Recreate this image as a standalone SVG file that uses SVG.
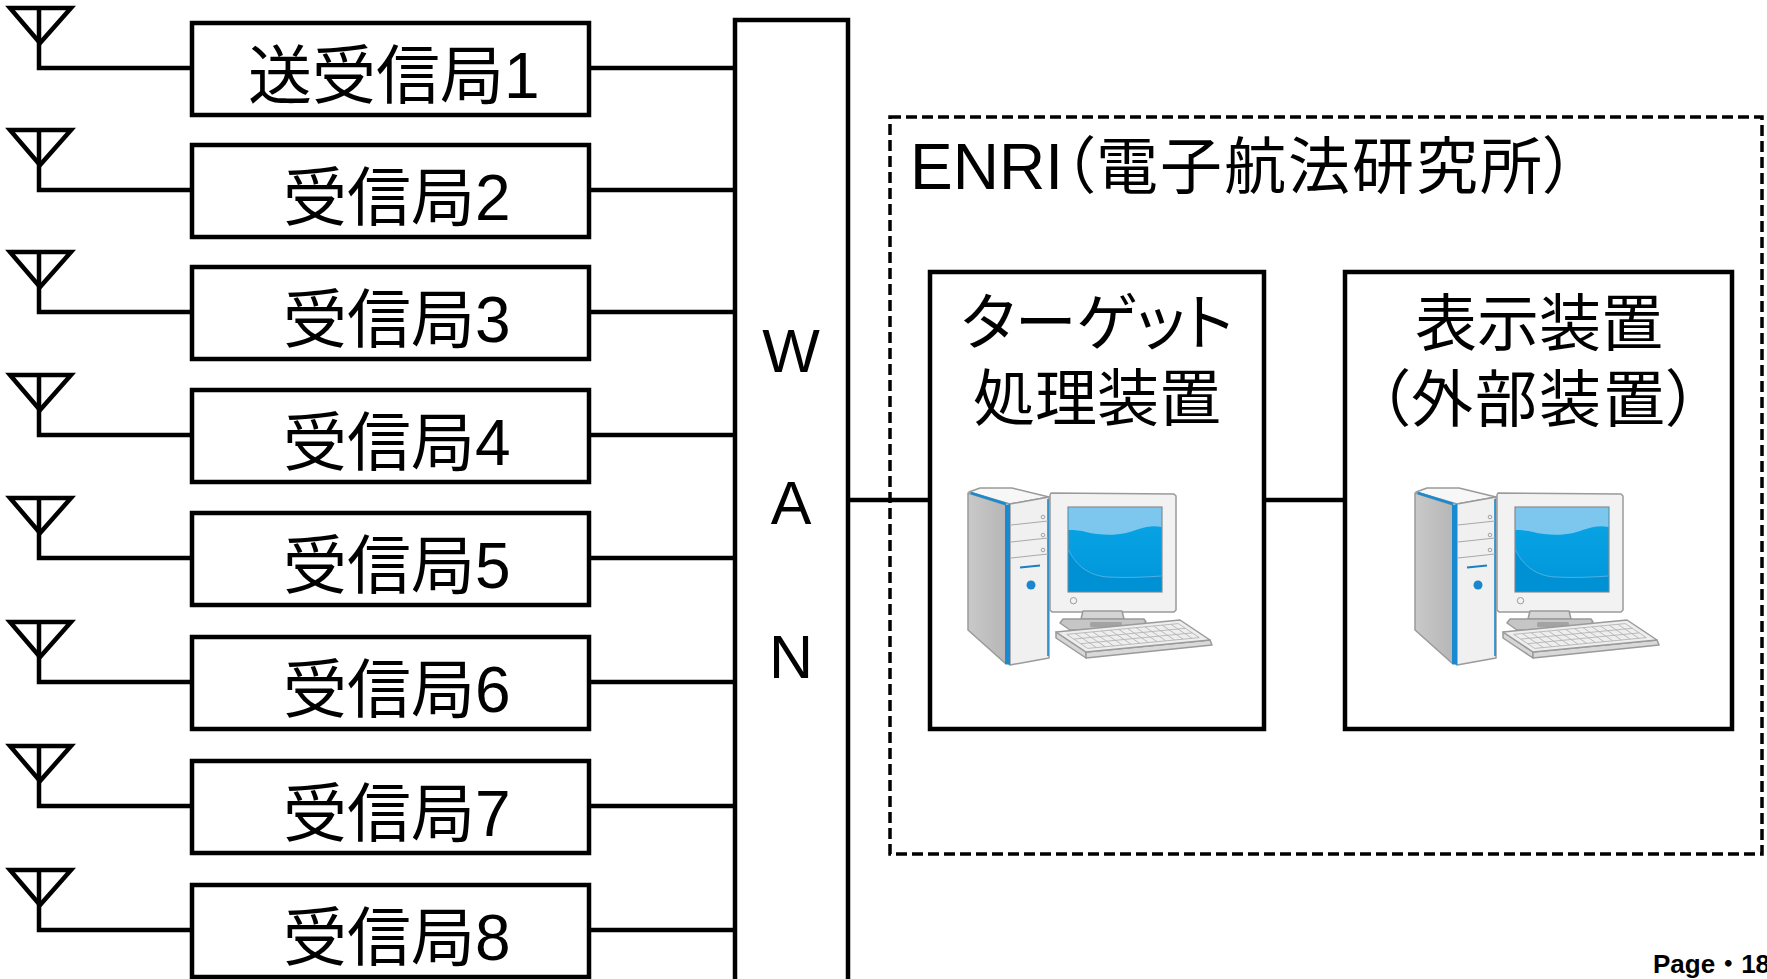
<svg xmlns="http://www.w3.org/2000/svg" width="1767" height="979" viewBox="0 0 1767 979">
  <style>
    .box { fill: #ffffff; stroke: #000000; stroke-width: 4.5; }
    .wire { fill: none; stroke: #000000; stroke-width: 4.5; }
    .ant { fill: none; stroke: #000000; stroke-width: 4.5; stroke-linejoin: miter; }
    .zone { fill: none; stroke: #000000; stroke-width: 3.5; stroke-dasharray: 11 5; }
    .jp { font-family: "Liberation Sans", "Noto Sans CJK JP", sans-serif; fill: #000000; }
    .st { font-size: 64px; }
    .big { font-size: 62px; font-feature-settings: "palt" 1; }
    .wan { font-family: "Liberation Sans", sans-serif; font-size: 61px; text-anchor: middle; fill: #000000; }
    .page { font-family: "Liberation Sans", "Noto Sans CJK JP", sans-serif; font-size: 26px; font-weight: bold; fill: #000000; }
    .pcl { stroke: #9a9a9a; stroke-width: 1.5; stroke-linejoin: round; }
    .keys { fill: none; stroke: #b4b4b4; stroke-width: 0.9; }
  </style>
  <defs>
    <linearGradient id="screenGrad" x1="0" y1="0" x2="0" y2="1">
      <stop offset="0" stop-color="#0aa6e6"/>
      <stop offset="1" stop-color="#0096da"/>
    </linearGradient>
    <linearGradient id="sideGrad" x1="0" y1="0" x2="1" y2="0">
      <stop offset="0" stop-color="#c9c9c9"/>
      <stop offset="1" stop-color="#b6b6b6"/>
    </linearGradient>
    <!-- desktop computer: tower, monitor and keyboard -->
    <g id="pc">
      <!-- tower -->
      <polygon class="pcl" points="0,5 38,17 38,176 0,142" fill="url(#sideGrad)"/>
      <polygon class="pcl" points="1,4 12,0 44,0 81,9 42,16" fill="#f7f7f7"/>
      <polygon class="pcl" points="42,16 81,9 81,170 42,177" fill="#f0f0f0"/>
      <polygon points="37,17 42,16 42,177 37,176" fill="#1a8ad0"/>
      <line x1="3" y1="5" x2="38" y2="16" stroke="#1a8ad0" stroke-width="2.5"/>
      <line x1="80" y1="11" x2="80" y2="168" stroke="#1a8ad0" stroke-width="1.6"/>
      <path d="M43,37 L80,33 M43,54 L80,50 M43,70 L80,66" stroke="#a8a8a8" stroke-width="1" fill="none"/>
      <circle cx="75" cy="29" r="1.8" fill="none" stroke="#9a9a9a" stroke-width="0.9"/>
      <circle cx="75" cy="47" r="1.8" fill="none" stroke="#9a9a9a" stroke-width="0.9"/>
      <circle cx="75" cy="62" r="1.8" fill="none" stroke="#9a9a9a" stroke-width="0.9"/>
      <line x1="52" y1="79.5" x2="72" y2="77.5" stroke="#1a7fc4" stroke-width="2"/>
      <circle cx="63" cy="97" r="4.5" fill="#1a86cc"/>
      <!-- monitor -->
      <polygon class="pcl" points="83,5 206,6 208,8 208,122 206,124 84,124 82,122 82,7" fill="#f2f2f2"/>
      <rect x="100" y="19" width="94" height="85" fill="url(#screenGrad)" stroke="#8c8c8c" stroke-width="1.2"/>
      <path d="M100.6,19.6 H193.4 V39 C180,36 170,42 158,45 C145,48 130,47 118,44 C110,42 104,42 100.6,42 Z" fill="#7dc7ef"/>
      <path d="M100.6,62 C108,78 122,88 140,89 C160,90 180,89 193.4,88 V103.4 H100.6 Z" fill="#0090d4"/>
      <path d="M100.6,62 C108,78 122,88 140,89 C160,90 180,89 193.4,88" fill="none" stroke="#5fb8e8" stroke-width="0.8"/>
      <circle cx="105.5" cy="112.7" r="3.2" fill="none" stroke="#9a9a9a" stroke-width="1"/>
      <polygon class="pcl" points="115,123 154,123 156,131 113,131" fill="#d4d4d4"/>
      <polygon class="pcl" points="95,131 176,131 178,134 166,142 102,142 92,135" fill="#c6c6c6"/>
      <rect x="122" y="134" width="32" height="5" rx="1.5" fill="#a3a3a3"/>
      <!-- keyboard -->
      <polygon class="pcl" points="88,144 118,164 118,170 88,150" fill="#d6d6d6"/>
      <polygon class="pcl" points="118,164 242,152 244,157 118,170" fill="#d9d9d9"/>
      <polygon class="pcl" points="88,144 212,132 242,152 118,164" fill="#eeeeee"/>
      <path class="keys" d="M98.7,146.4 L210.3,135.6 M105.7,151.1 L217.3,140.3 M112.7,155.7 L224.3,144.9 M119.7,160.4 L231.3,149.6
        M98.7,146.4 L119.7,160.4 M107.4,145.6 L128.4,159.6 M116.1,144.7 L137.1,158.7 M124.7,143.9 L145.7,157.9
        M133.4,143 L154.4,157 M142.1,142.2 L163.1,156.2 M150.8,141.4 L171.8,155.4 M159.5,140.5 L180.5,154.5
        M168.1,139.7 L189.1,153.7 M176.8,138.8 L197.8,152.8 M185.5,138 L206.5,152 M194.2,137.2 L215.2,151.2
        M202.9,136.3 L223.9,150.3 M210.3,135.6 L231.3,149.6"/>
    </g>
  </defs>

  <rect width="1767" height="979" fill="#ffffff"/>

  <!-- connectors -->
  <g id="connectors">
    <path class="wire" d="M39,8 V68 H192 M589,68 H735"/>
    <path class="wire" d="M39,130 V190 H192 M589,190 H735"/>
    <path class="wire" d="M39,252 V312 H192 M589,312 H735"/>
    <path class="wire" d="M39,375 V435 H192 M589,435 H735"/>
    <path class="wire" d="M39,498 V558 H192 M589,558 H735"/>
    <path class="wire" d="M39,622 V682 H192 M589,682 H735"/>
    <path class="wire" d="M39,746 V806 H192 M589,806 H735"/>
    <path class="wire" d="M39,870 V930 H192 M589,930 H735"/>
    <path class="wire" d="M848,500 H930 M1264,500 H1345"/>
  </g>

  <!-- antennas -->
  <g id="antennas">
    <polygon class="ant" points="10,8 71,8 40,43"/>
    <polygon class="ant" points="10,130 71,130 40,165"/>
    <polygon class="ant" points="10,252 71,252 40,287"/>
    <polygon class="ant" points="10,375 71,375 40,410"/>
    <polygon class="ant" points="10,498 71,498 40,533"/>
    <polygon class="ant" points="10,622 71,622 40,657"/>
    <polygon class="ant" points="10,746 71,746 40,781"/>
    <polygon class="ant" points="10,870 71,870 40,905"/>
  </g>

  <!-- stations -->
  <g id="station1"><rect class="box" x="192" y="23" width="397" height="92"/><text class="jp st" x="248" y="98">送受信局1</text></g>
  <g id="station2"><rect class="box" x="192" y="145" width="397" height="92"/><text class="jp st" x="283" y="220">受信局2</text></g>
  <g id="station3"><rect class="box" x="192" y="267" width="397" height="92"/><text class="jp st" x="283" y="342">受信局3</text></g>
  <g id="station4"><rect class="box" x="192" y="390" width="397" height="92"/><text class="jp st" x="283" y="465">受信局4</text></g>
  <g id="station5"><rect class="box" x="192" y="513" width="397" height="92"/><text class="jp st" x="283" y="588">受信局5</text></g>
  <g id="station6"><rect class="box" x="192" y="637" width="397" height="92"/><text class="jp st" x="283" y="712">受信局6</text></g>
  <g id="station7"><rect class="box" x="192" y="761" width="397" height="92"/><text class="jp st" x="283" y="836">受信局7</text></g>
  <g id="station8"><rect class="box" x="192" y="885" width="397" height="92"/><text class="jp st" x="283" y="960">受信局8</text></g>

  <!-- WAN -->
  <g id="wan">
    <rect class="box" x="735" y="20" width="113" height="975"/>
    <text class="wan" x="791" y="372">W</text>
    <text class="wan" x="791" y="524">A</text>
    <text class="wan" x="791" y="678">N</text>
  </g>

  <!-- ENRI site -->
  <g id="enri">
    <rect class="zone" x="890" y="117" width="872" height="737"/>
    <text class="jp" x="910" y="189" font-size="64">ENRI<tspan font-size="62" letter-spacing="2" style="font-feature-settings:'palt' 1">（電子航法研究所）</tspan></text>
  </g>

  <g id="target-processor">
    <rect class="box" x="930" y="272" width="334" height="457"/>
    <text class="jp big" x="1097" y="345" text-anchor="middle">ターゲット</text>
    <text class="jp big" x="1097" y="421" text-anchor="middle">処理装置</text>
    <use href="#pc" transform="translate(968,488)"/>
  </g>

  <g id="display-unit">
    <rect class="box" x="1345" y="272" width="387" height="457"/>
    <text class="jp big" x="1539" y="346" text-anchor="middle">表示装置</text>
    <text class="jp big" x="1539" y="422" text-anchor="middle" letter-spacing="2">（外部装置）</text>
    <use href="#pc" transform="translate(1415,488)"/>
  </g>

  <text class="page" x="1653" y="973">Page・18</text>
</svg>
